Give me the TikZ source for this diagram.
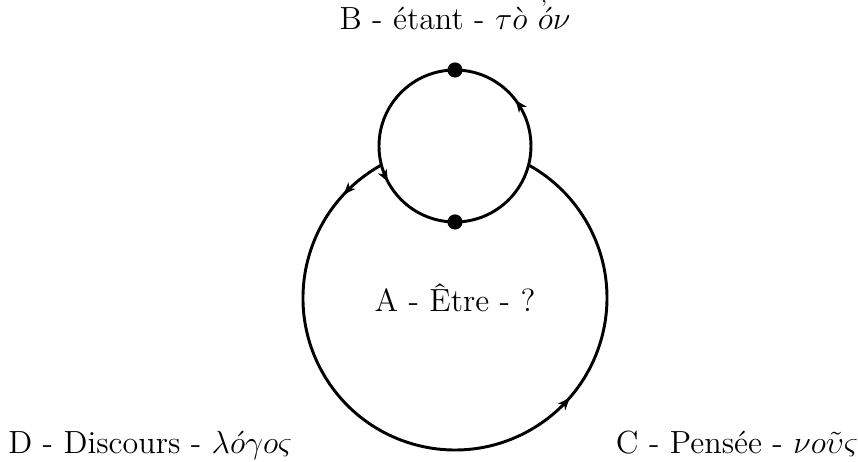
\documentclass[tikz,border=0pt]{standalone}
\usepackage{amsmath}
\usepackage{fontspec}
\usetikzlibrary{arrows.meta,decorations.markings}
\begin{document}
\begin{tikzpicture}[
  font=\large,
  ring/.style={line width=1.1pt},
  dot/.style={circle, fill=black, inner sep=0pt, minimum size=2mm},
  lbl/.style={anchor=base, inner sep=0pt},
]
\useasboundingbox (-5.987,-4.158) rectangle (5.303,1.921);
% centres of the two circles
\coordinate (O) at (0,0);
\coordinate (A) at (0,-2);
% small circle (étant)
\draw[ring, postaction={decorate}, decoration={markings,
    mark=at position 0.103 with {\arrow{Stealth[length=4.5pt,width=3.6pt,inset=1.3pt]}},
    mark=at position 0.578 with {\arrow{Stealth[length=4.5pt,width=3.6pt,inset=1.3pt]}}}]
  ([shift={(0:1)}]O) arc[start angle=0, end angle=360, radius=1];
% big circle, outside the small one
\draw[ring, postaction={decorate}, decoration={markings,
    mark=at position 0.06 with {\arrow{Stealth[length=4.5pt,width=3.6pt,inset=1.3pt]}},
    mark=at position 0.662 with {\arrow{Stealth[length=4.5pt,width=3.6pt,inset=1.3pt]}}}]
  ([shift={(118.96:2)}]A) arc[start angle=118.96, end angle=421.04, radius=2];
\node[dot] (top) at ([shift={(90:1)}]O) {};
\node[dot] (bot) at ([shift={(270:1)}]O) {};
% labels
\node[lbl] (B) at (0,1.53) {B - étant - $\tau\grave{o}\ \rlap{\raisebox{1.15ex}{\scriptsize\kern1.2pt'}}\acute{o}\nu$};
\node[lbl] (Etre) at (0,-2.18) {A - Être - ?};
\node[lbl] (D) at (-4.01,-4.04) {D - Discours - $\lambda\acute{o}\gamma o\varsigma$};
\node[lbl] (C) at (3.71,-4.04) {C - Pensée - $\nu o\tilde{\upsilon}\varsigma$};
\end{tikzpicture}
\end{document}
